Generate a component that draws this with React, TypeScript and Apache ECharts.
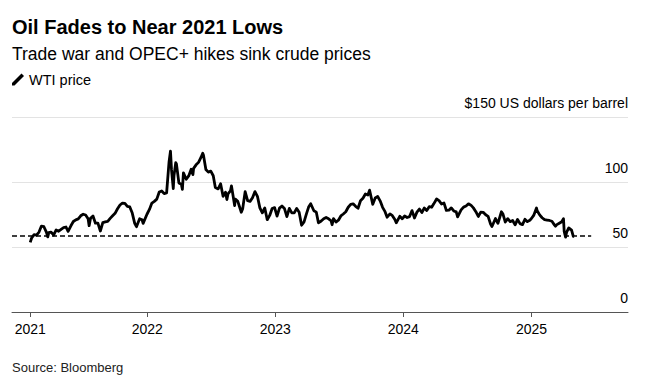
import React, { useEffect, useRef } from "react";
import * as echarts from "echarts";

// WTI price (US dollars per barrel)
const dates2021: string[] = [
  "2021-02-01", "2021-02-05", "2021-02-12", "2021-02-19", "2021-02-26", "2021-03-05", "2021-03-12",
  "2021-03-19", "2021-03-23", "2021-03-26", "2021-04-01", "2021-04-09", "2021-04-16", "2021-04-23",
  "2021-04-30", "2021-05-07", "2021-05-14", "2021-05-20", "2021-05-28", "2021-06-04", "2021-06-11",
  "2021-06-18", "2021-06-25", "2021-07-02", "2021-07-09", "2021-07-16", "2021-07-19", "2021-07-23",
  "2021-07-30", "2021-08-06", "2021-08-13", "2021-08-20", "2021-08-27", "2021-09-03", "2021-09-10",
  "2021-09-17", "2021-09-24", "2021-10-01", "2021-10-08", "2021-10-15", "2021-10-22", "2021-10-29",
  "2021-11-05", "2021-11-12", "2021-11-19", "2021-11-26", "2021-12-01", "2021-12-10", "2021-12-17",
  "2021-12-20", "2021-12-31",
];
const prices2021: number[] = [
  53.6, 56.9, 59.5, 59.2, 61.5, 66.1, 65.6,
  61.4, 57.8, 61.0, 61.5, 59.3, 63.1, 62.1,
  63.6, 64.9, 65.4, 62.0, 66.3, 69.6, 70.9,
  71.6, 74.0, 75.2, 74.6, 71.8, 66.4, 72.1,
  73.9, 68.3, 68.4, 62.3, 68.7, 69.3, 69.7,
  72.0, 74.0, 75.9, 79.4, 82.3, 83.8, 83.6,
  81.3, 80.8, 76.1, 68.2, 65.6, 71.7, 70.9,
  68.2, 75.2,
];

const dates2022: string[] = [
  "2022-01-07", "2022-01-14", "2022-01-21", "2022-01-28", "2022-02-04", "2022-02-11", "2022-02-18",
  "2022-02-25", "2022-03-04", "2022-03-08", "2022-03-11", "2022-03-16", "2022-03-18", "2022-03-23",
  "2022-03-25", "2022-04-01", "2022-04-08", "2022-04-11", "2022-04-14", "2022-04-22", "2022-04-29",
  "2022-05-06", "2022-05-11", "2022-05-13", "2022-05-20", "2022-05-27", "2022-06-03", "2022-06-08",
  "2022-06-10", "2022-06-17", "2022-06-24", "2022-07-01", "2022-07-08", "2022-07-14", "2022-07-22",
  "2022-07-29", "2022-08-05", "2022-08-12", "2022-08-16", "2022-08-19", "2022-08-26", "2022-08-29",
  "2022-09-07", "2022-09-09", "2022-09-16", "2022-09-26", "2022-09-30", "2022-10-07", "2022-10-14",
  "2022-10-21", "2022-10-28", "2022-11-04", "2022-11-11", "2022-11-18", "2022-11-25", "2022-12-02",
  "2022-12-09", "2022-12-16", "2022-12-23", "2022-12-30",
];
const prices2022: number[] = [
  78.9, 83.8, 85.1, 86.8, 92.3, 93.1, 91.1,
  91.6, 115.7, 123.7, 109.3, 95.0, 104.7, 114.9,
  113.9, 99.3, 98.3, 94.3, 107.0, 102.1, 104.7,
  109.8, 105.7, 110.5, 113.2, 115.1, 118.9, 122.1,
  120.7, 109.6, 107.6, 108.4, 104.8, 95.8, 94.7,
  98.6, 89.0, 92.1, 86.5, 90.8, 93.1, 97.0,
  81.9, 86.8, 85.1, 76.7, 79.5, 92.6, 85.6,
  85.1, 87.9, 92.6, 89.0, 80.1, 76.3, 80.0,
  71.0, 74.3, 79.6, 80.3,
];

const dates2023: string[] = [
  "2023-01-06", "2023-01-13", "2023-01-20", "2023-01-27", "2023-02-03", "2023-02-10", "2023-02-17",
  "2023-02-24", "2023-03-03", "2023-03-10", "2023-03-17", "2023-03-24", "2023-03-31", "2023-04-06",
  "2023-04-12", "2023-04-21", "2023-04-28", "2023-05-04", "2023-05-12", "2023-05-19", "2023-05-26",
  "2023-06-02", "2023-06-09", "2023-06-12", "2023-06-16", "2023-06-23", "2023-06-30", "2023-07-07",
  "2023-07-14", "2023-07-21", "2023-07-28", "2023-08-04", "2023-08-11", "2023-08-18", "2023-08-25",
  "2023-09-01", "2023-09-08", "2023-09-15", "2023-09-22", "2023-09-27", "2023-10-06", "2023-10-13",
  "2023-10-20", "2023-10-27", "2023-11-03", "2023-11-10", "2023-11-16", "2023-11-24", "2023-12-01",
  "2023-12-08", "2023-12-12", "2023-12-22", "2023-12-29",
];
const prices2023: number[] = [
  73.8, 79.9, 81.6, 79.7, 73.4, 79.7, 76.3,
  76.3, 79.7, 76.7, 66.7, 69.3, 75.7, 80.7,
  83.3, 77.9, 76.8, 68.6, 70.0, 71.7, 72.7,
  71.7, 70.2, 67.1, 71.8, 69.2, 70.6, 73.9,
  75.4, 77.1, 80.6, 82.8, 83.2, 81.3, 79.8,
  85.6, 87.5, 90.8, 90.0, 93.7, 82.8, 87.7,
  88.8, 85.5, 80.5, 77.2, 72.9, 75.5, 74.1,
  71.2, 68.6, 73.6, 71.7,
];

const dates2024: string[] = [
  "2024-01-05", "2024-01-12", "2024-01-19", "2024-01-26", "2024-02-02", "2024-02-09", "2024-02-16",
  "2024-02-23", "2024-03-01", "2024-03-08", "2024-03-15", "2024-03-22", "2024-03-28", "2024-04-05",
  "2024-04-12", "2024-04-19", "2024-04-26", "2024-05-03", "2024-05-10", "2024-05-17", "2024-05-24",
  "2024-05-31", "2024-06-04", "2024-06-14", "2024-06-21", "2024-06-28", "2024-07-05", "2024-07-12",
  "2024-07-19", "2024-07-26", "2024-08-02", "2024-08-09", "2024-08-16", "2024-08-23", "2024-08-30",
  "2024-09-06", "2024-09-10", "2024-09-20", "2024-09-27", "2024-10-04", "2024-10-07", "2024-10-11",
  "2024-10-18", "2024-10-25", "2024-11-01", "2024-11-08", "2024-11-15", "2024-11-22", "2024-11-29",
  "2024-12-06", "2024-12-13", "2024-12-20", "2024-12-27", "2024-12-31",
];
const prices2024: number[] = [
  73.8, 72.7, 73.4, 78.0, 72.3, 76.8, 79.2,
  76.5, 80.0, 78.0, 81.0, 80.6, 83.2, 86.9,
  85.7, 83.1, 83.9, 78.1, 78.3, 80.1, 77.7,
  77.0, 73.2, 78.5, 80.7, 81.5, 83.2, 82.2,
  80.1, 77.2, 73.5, 76.8, 76.7, 74.8, 73.6,
  67.7, 65.8, 71.9, 68.2, 74.4, 77.1, 75.6,
  69.2, 71.8, 69.5, 70.4, 67.0, 71.2, 68.0,
  67.2, 71.3, 69.5, 70.6, 71.7,
];

const dates2025: string[] = [
  "2025-01-07", "2025-01-15", "2025-01-17", "2025-01-24", "2025-01-31", "2025-02-07", "2025-02-14",
  "2025-02-21", "2025-02-28", "2025-03-07", "2025-03-10", "2025-03-14", "2025-03-21", "2025-03-28",
  "2025-04-02", "2025-04-04", "2025-04-08", "2025-04-11", "2025-04-17", "2025-04-25", "2025-04-30",
  "2025-05-02",
];
const prices2025: number[] = [
  74.3, 80.0, 77.9, 74.7, 72.5, 71.0, 70.7,
  70.4, 69.8, 67.0, 66.0, 67.2, 68.3, 69.4,
  71.7, 62.0, 57.6, 61.5, 64.7, 63.0, 58.2,
  58.3,
];

// Dashed reference line (near the 2021 lows)
const refLevel = 58.5;
const refDates: string[] = ["2020-12-11", "2025-06-20"];

// Axis ticks
const yearTicks: string[] = ["2021-02-01", "2022-01-01", "2023-01-01", "2024-01-01", "2025-01-01"];
const yearLabels: string[] = ["2021", "2022", "2023", "2024", "2025"];

const FONT = "'Liberation Sans', Arial, sans-serif";

export default function App() {
  const ref = useRef<HTMLDivElement>(null);
  useEffect(() => {
    if (!ref.current) return;
    document.body.style.margin = "0";
    const chart = echarts.init(ref.current, undefined, { renderer: "svg" });
    const toTs = (d: string) => {
      const [y, m, dd] = d.split("-").map(Number);
      return Date.UTC(y, m - 1, dd);
    };
    const tickTs = yearTicks.map(toTs);
    const allDates = [...dates2021, ...dates2022, ...dates2023, ...dates2024, ...dates2025];
    const allPrices = [...prices2021, ...prices2022, ...prices2023, ...prices2024, ...prices2025];
    chart.setOption({
      animation: false,
      backgroundColor: "#ffffff",
      textStyle: { fontFamily: FONT },
      title: {
        text: "Oil Fades to Near 2021 Lows",
        subtext: "Trade war and OPEC+ hikes sink crude prices",
        left: 12,
        top: 17,
        padding: 0,
        itemGap: 8,
        textStyle: { fontFamily: FONT, fontSize: 20, fontWeight: "bold", color: "#000" },
        subtextStyle: { fontFamily: FONT, fontSize: 17.5, color: "#000" },
      },
      legend: {
        data: ["WTI price"],
        left: 12,
        top: 72,
        padding: 0,
        itemWidth: 12,
        itemHeight: 12,
        itemGap: 8,
        icon: "path://M0,12 L2.5,12 L12,2.5 L9.5,0 L0,9.5 Z",
        textStyle: { fontFamily: FONT, fontSize: 14.5, color: "#000" },
      },
      grid: { left: 12, right: 30, top: 117, bottom: 78, containLabel: false },
      xAxis: {
        type: "value",
        min: toTs("2020-12-11"),
        max: toTs("2025-10-03"),
        axisLine: { show: true, lineStyle: { color: "#555", width: 1 } },
        axisTick: { show: true, length: 5, lineStyle: { color: "#555" }, customValues: tickTs },
        axisLabel: {
          customValues: tickTs,
          formatter: (v: number) => {
            const i = tickTs.indexOf(v);
            return i >= 0 ? yearLabels[i] : "";
          },
          fontFamily: FONT,
          fontSize: 14,
          color: "#000",
          margin: 10,
        },
        splitLine: { show: false },
      },
      yAxis: {
        type: "value",
        position: "right",
        min: 0,
        max: 150,
        interval: 50,
        axisLine: { show: false },
        axisTick: { show: false },
        splitLine: { show: true, lineStyle: { color: "#e3e3e3", width: 1 } },
        axisLabel: {
          inside: true,
          margin: 0,
          verticalAlign: "bottom",
          padding: [0, 0, 7, 0],
          fontFamily: FONT,
          fontSize: 14,
          color: "#000",
          formatter: (v: number) => (v === 150 ? "$150 US dollars per barrel" : String(v)),
        },
      },
      series: [
        {
          name: "2021 low",
          type: "line",
          data: refDates.map((d) => [toTs(d), refLevel]),
          symbol: "none",
          silent: true,
          lineStyle: { color: "#000", width: 1.5, type: [5, 3] },
          z: 2,
        },
        {
          name: "WTI price",
          type: "line",
          data: allDates.map((d, i) => [toTs(d), allPrices[i]]),
          symbol: "none",
          itemStyle: { color: "#000" },
          lineStyle: { color: "#000", width: 2.8, join: "round" },
          z: 3,
        },
      ],
      graphic: [
        {
          type: "text",
          left: 12,
          top: 361,
          style: { text: "Source: Bloomberg", fontFamily: FONT, fontSize: 13, fill: "#222" },
        },
      ],
    });
    return () => chart.dispose();
  }, []);
  return <div ref={ref} style={{ width: 658, height: 390 }} />;
}
